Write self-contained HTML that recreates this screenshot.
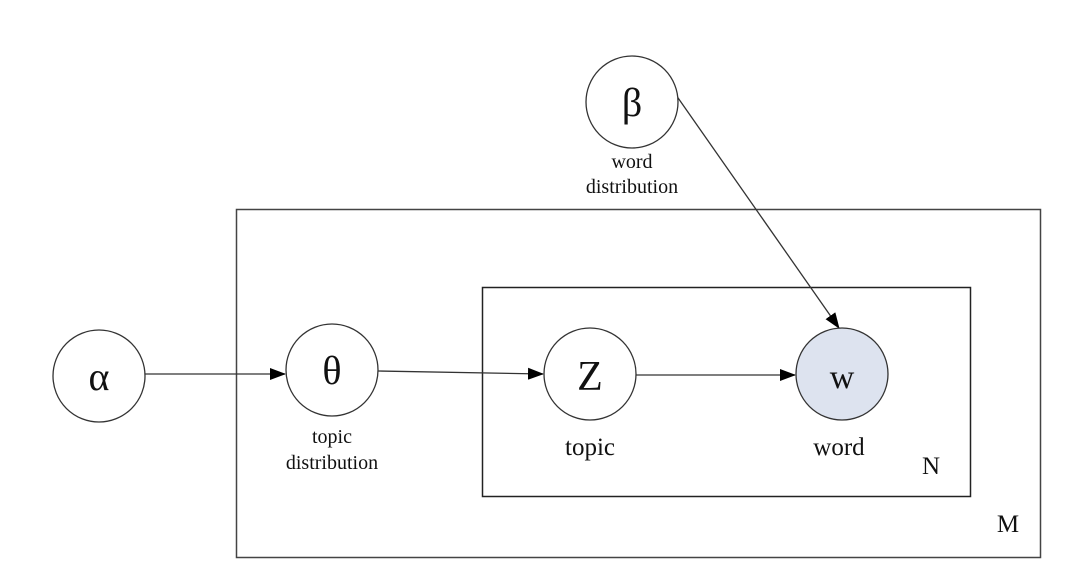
<!DOCTYPE html>
<html><head><meta charset="utf-8"><style>
html,body{margin:0;padding:0;background:#fff;}
svg{display:block;}
text{font-family:"Liberation Serif",serif;fill:#111;}
</style></head><body>
<svg width="1089" height="585" viewBox="0 0 1089 585" xmlns="http://www.w3.org/2000/svg">
<defs>
<marker id="a" markerWidth="16" markerHeight="12" refX="15" refY="6" orient="auto" markerUnits="userSpaceOnUse">
<path d="M0,0 L16,6 L0,12 z" fill="#000"/>
</marker>
</defs>
<rect x="236.5" y="209.5" width="804" height="348" fill="none" stroke="#444" stroke-width="1.5"/>
<rect x="482.5" y="287.5" width="488" height="209" fill="none" stroke="#222" stroke-width="1.5"/>
<line x1="145" y1="374" x2="285" y2="374" stroke="#333" stroke-width="1.3" marker-end="url(#a)"/>
<line x1="378" y1="371" x2="543" y2="374" stroke="#333" stroke-width="1.3" marker-end="url(#a)"/>
<line x1="636" y1="375" x2="795" y2="375" stroke="#333" stroke-width="1.3" marker-end="url(#a)"/>
<line x1="676" y1="95" x2="839" y2="328" stroke="#333" stroke-width="1.3" marker-end="url(#a)"/>
<circle cx="632" cy="102" r="46" fill="#fff" stroke="#333" stroke-width="1.3"/>
<circle cx="99" cy="376" r="46" fill="#fff" stroke="#333" stroke-width="1.3"/>
<circle cx="332" cy="370" r="46" fill="#fff" stroke="#333" stroke-width="1.3"/>
<circle cx="590" cy="374" r="46" fill="#fff" stroke="#333" stroke-width="1.3"/>
<circle cx="842" cy="374" r="46" fill="#dde3ef" stroke="#333" stroke-width="1.3"/>
<text x="632" y="116" font-size="40" text-anchor="middle">β</text>
<text x="99" y="390" font-size="40" text-anchor="middle">α</text>
<text x="332" y="384" font-size="40" text-anchor="middle">θ</text>
<text x="590" y="390" font-size="42" text-anchor="middle">Z</text>
<text x="842" y="388" font-size="34" text-anchor="middle">w</text>
<text x="632" y="168" font-size="20" text-anchor="middle">word</text>
<text x="632" y="193" font-size="20" text-anchor="middle">distribution</text>
<text x="332" y="443" font-size="20" text-anchor="middle">topic</text>
<text x="332" y="469" font-size="20" text-anchor="middle">distribution</text>
<text x="590" y="455" font-size="25" text-anchor="middle">topic</text>
<text x="839" y="455" font-size="25" text-anchor="middle">word</text>
<text x="931" y="474" font-size="25" text-anchor="middle">N</text>
<text x="1008" y="532" font-size="25" text-anchor="middle">M</text>
</svg>
</body></html>
